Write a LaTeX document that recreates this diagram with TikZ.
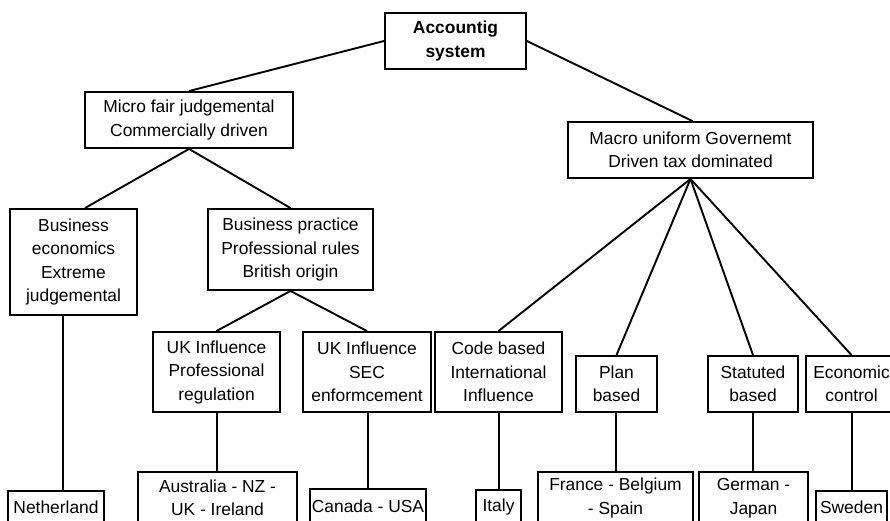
\documentclass[tikz,border=0pt]{standalone}
\usepackage{fontspec}
\setmainfont{Liberation Sans}
\begin{document}
\begin{tikzpicture}[x=1pt,y=-1pt,
  box/.style={draw=black,line width=1.9pt,inner sep=0pt,align=center,
    font=\fontsize{17.4}{23.5}\selectfont},
  conn/.style={draw=black,line width=1.9pt}]
\clip (0,0) rectangle (890,520);
\fill[white] (0,0) rectangle (890,520);
% helper macro: node by box corners
\newcommand\bx[6]{\node[box,minimum width=#4-#2,minimum height=#5-#3] (#1) at ({(#2+#4)/2},{(#3+#5)/2}) {#6};}
\bx{root}{385}{13}{526}{69}{\bfseries Accountig\\\bfseries system}
\bx{micro}{85}{92}{293}{148}{Micro fair judgemental\\Commercially driven}
\bx{macro}{568}{122}{813}{178}{Macro uniform Governemt\\Driven tax dominated}
\bx{be}{10}{209}{137}{315}{Business\\economics\\Extreme\\judgemental}
\bx{bp}{208}{209}{373}{290}{Business practice\\Professional rules\\British origin}
\bx{ukp}{153}{332}{280}{412}{UK Influence\\Professional\\regulation}
\bx{uks}{303}{332}{431}{412}{UK Influence\\SEC\\enformcement}
\bx{code}{435}{332}{562}{412}{Code based\\International\\Influence}
\bx{plan}{576}{356}{657}{412}{Plan\\based}
\bx{stat}{708}{356}{798}{412}{Statuted\\based}
\bx{econ}{806}{356}{897}{412}{Economic\\control}
\bx{neth}{8}{491}{104}{524}{Netherland}
\bx{aus}{138}{472}{297}{524}{Australia - NZ -\\UK - Ireland}
\bx{can}{310}{489}{426}{524}{Canada - USA}
\bx{ita}{476}{490}{521}{524}{Italy}
\bx{fra}{538}{472}{693}{524}{France - Belgium\\- Spain}
\bx{ger}{699}{472}{808}{524}{German -\\Japan}
\bx{swe}{816}{491}{887}{524}{Sweden}
\coordinate (ba) at (85,0);
\coordinate (bb) at (63,0);
\coordinate (v1) at (217,0);
\coordinate (v2) at (368,0);
\coordinate (v3) at (499,0);
\coordinate (v4) at (616,0);
\coordinate (v5) at (753,0);
\coordinate (v6) at (852,0);
\draw[conn] (root.west) -- (micro.north);
\draw[conn] (root.east) -- ([xshift=2pt]macro.north);
\draw[conn] (micro.south) -- (be.north -| ba);
\draw[conn] (micro.south) -- (bp.north);
\draw[conn] (bp.south) -- (ukp.north);
\draw[conn] (bp.south) -- (uks.north);
\draw[conn] (macro.south) -- (code.north);
\draw[conn] (macro.south) -- (plan.north);
\draw[conn] (macro.south) -- (stat.north);
\draw[conn] (macro.south) -- (econ.north);
\draw[conn] (be.south -| bb) -- (neth.north -| bb);
\draw[conn] (ukp.south -| v1) -- (aus.north -| v1);
\draw[conn] (uks.south -| v2) -- (can.north -| v2);
\draw[conn] (code.south -| v3) -- (ita.north -| v3);
\draw[conn] (plan.south -| v4) -- (fra.north -| v4);
\draw[conn] (stat.south -| v5) -- (ger.north -| v5);
\draw[conn] (econ.south -| v6) -- (swe.north -| v6);
\end{tikzpicture}
\end{document}
